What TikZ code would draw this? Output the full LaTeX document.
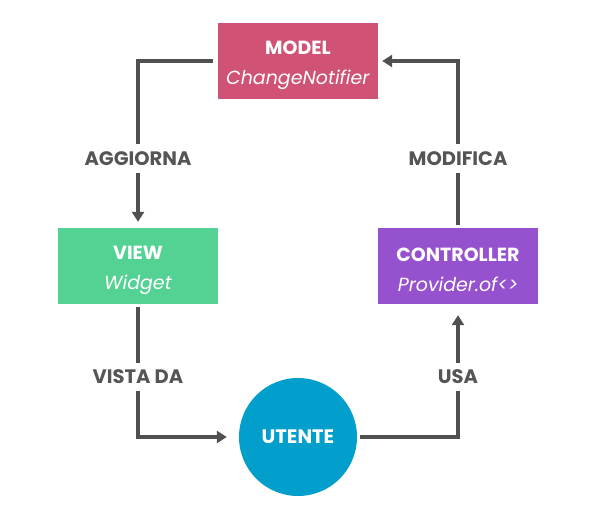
\documentclass[tikz,border=0pt]{standalone}
\usepackage{fontspec}
\setmainfont{Poppins}
\usetikzlibrary{arrows.meta}
\definecolor{cmodel}{RGB}{208,82,117}
\definecolor{cview}{RGB}{83,210,148}
\definecolor{cctrl}{RGB}{150,82,206}
\definecolor{cuser}{RGB}{2,158,204}
\definecolor{cline}{RGB}{80,80,80}
\definecolor{clabel}{RGB}{85,85,85}
\tikzset{
  boxnode/.style={rectangle, minimum width=160pt, minimum height=76pt, inner sep=0pt, text=white, align=center, font=\fontsize{19}{30}\selectfont},
  usernode/.style={circle, minimum size=118pt, inner sep=0pt, fill=cuser, text=white, font=\fontsize{19.5}{20}\selectfont\bfseries},
  conn/.style={draw=cline, line width=4pt, line join=miter, -{Triangle[length=10pt,width=12pt]}},
  lbl/.style={fill=white, text=clabel, inner xsep=2pt, inner ysep=7.5pt, text height=13.7pt, text depth=0pt, font=\fontsize{19.5}{20}\selectfont\bfseries}
}
\begin{document}
\begin{tikzpicture}[x=1pt,y=-1pt]
\useasboundingbox (0,0) rectangle (595,513);
\node[boxnode, fill=cmodel] (model) at (298,61) {\rule{0pt}{22pt}\textbf{MODEL}\\\textit{ChangeNotifier}};
\node[boxnode, fill=cview] (view) at (138,266) {\rule{0pt}{22pt}\textbf{VIEW}\\\textit{Widget}};
\node[boxnode, fill=cctrl] (ctrl) at (458,266) {\rule{0pt}{22pt}\textbf{CONTROLLER}\\\textit{Provider.of<>}};
\node[usernode] (user) at (298,437) {UTENTE};
\draw[conn, shorten <=5pt, shorten >=6pt] (model.west) -| (view.north);
\draw[conn, shorten <=3pt, shorten >=4pt] (ctrl.north) |- (model.east);
\draw[conn, shorten <=3pt, shorten >=12pt] (view.south) |- (user.west);
\draw[conn, shorten <=3pt, shorten >=11pt] (user.east) -| (ctrl.south);
\node[lbl] (l1) at (138,158.5) {AGGIORNA};
\node[lbl] (l2) at (458,158.5) {MODIFICA};
\node[lbl] (l3) at (138,377) {VISTA DA};
\node[lbl] (l4) at (458,377) {USA};
\end{tikzpicture}
\end{document}
